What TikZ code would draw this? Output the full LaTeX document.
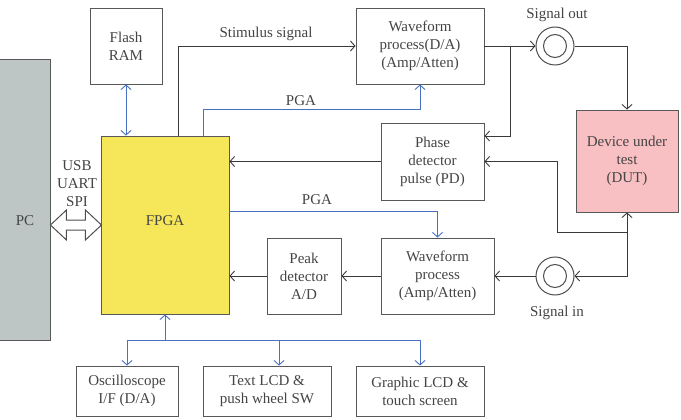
\documentclass[tikz,border=0pt]{standalone}
\usepackage{fontspec}
\setmainfont{Liberation Serif}
\usetikzlibrary{arrows.meta}
\definecolor{ln}{HTML}{3A3A3A}
\definecolor{bl}{HTML}{4A70C0}
\definecolor{txt}{HTML}{444444}
\definecolor{pcgray}{HTML}{BDC6C4}
\definecolor{fpgay}{HTML}{F5E65A}
\definecolor{dutpink}{HTML}{F9C0C4}
\begin{document}
\begin{tikzpicture}[x=1pt,y=-1pt,
  font=\fontsize{15}{18}\selectfont,
  box/.style={draw=ln!85, line width=0.9pt, text=txt, align=center, inner sep=0pt},
  lbl/.style={text=txt, align=center, inner sep=0pt},
  tip/.style={-{Straight Barb[length=4.5pt,width=10pt]}},
  arr/.style={draw=ln, line width=0.9pt, tip},
  barr/.style={draw=bl, line width=0.9pt, tip},
  bline/.style={draw=bl, line width=0.9pt},
  conn/.style={draw=ln!90, line width=1pt, fill=white}]
\useasboundingbox (0,0) rectangle (681,420);
\clip (0,0) rectangle (681,420);

% blocks
\node[box, fill=pcgray, minimum width=55, minimum height=281] (pc) at (22.5,199.5) {};
\node[lbl] (pclabel) at (25,221) {PC};
\node[box, minimum width=72, minimum height=76] (flash) at (126,46) {Flash\\RAM};
\node[box, fill=fpgay, minimum width=128, minimum height=178] (fpga) at (165,225) {};
\node[lbl] (fpgalabel) at (165,221) {FPGA};
\node[box, minimum width=128, minimum height=76] (wfo) at (420,46) {Waveform\\process(D/A)\\(Amp/Atten)};
\node[conn, circle, minimum size=38, inner sep=0pt] (sout) at (555,46) {};
\draw[ln!90, line width=1pt] (sout.center) circle (11.5);
\node[box, fill=dutpink, minimum width=102, minimum height=102] (dut) at (627,161) {Device under\\test\\(DUT)};
\node[box, minimum width=103, minimum height=77] (phase) at (432.5,161.5) {Phase\\detector\\pulse (PD)};
\node[box, minimum width=113, minimum height=76] (wfi) at (437.5,276) {Waveform\\process\\(Amp/Atten)};
\node[conn, circle, minimum size=38, inner sep=0pt] (sin) at (555,276) {};
\draw[ln!90, line width=1pt] (sin.center) circle (11.5);
\node[box, minimum width=74, minimum height=76] (peak) at (304,276) {Peak\\detector\\A/D};
\node[box, minimum width=102, minimum height=50] (osc) at (127,391) {Oscilloscope\\I/F (D/A)};
\node[box, minimum width=128, minimum height=50] (tlcd) at (267,391) {Text LCD \&\\push wheel SW};
\node[box, minimum width=128, minimum height=50] (glcd) at (420,391) {Graphic LCD \&\\touch screen};

% labels
\node[lbl] (stim) at (266,34) {Stimulus signal};
\node[lbl] (soutl) at (557,15) {Signal out};
\node[lbl] (sinl) at (557,313) {Signal in};
\node[lbl] (pga1) at (301,101) {PGA};
\node[lbl] (pga2) at (317,200) {PGA};
\node[lbl] (usb) at (77,184) {USB\\UART\\SPI};

% PC <-> FPGA hollow double arrow
\coordinate (da) at (pc.east |- 0,225);
\draw[conn, line join=miter] (da) -- ++(16,-15) -- ++(0,10) -- ++(19,0) -- ++(0,-10) -- ++(16,15)
  -- ++(-16,15) -- ++(0,-10) -- ++(-19,0) -- ++(0,10) -- cycle;

% Flash <-> FPGA
\draw[barr, {Straight Barb[length=4.5pt,width=10pt]}-{Straight Barb[length=4.5pt,width=10pt]}] (flash.south) -- (flash.south |- fpga.north);

% stimulus
\draw[arr] ([xshift=13pt]fpga.north) |- (wfo.west);
% PGA 1
\draw[barr] ([xshift=38pt]fpga.north) -- ++(0,-26) -| (wfo.south);
% waveform out -> signal out
\draw[arr] (wfo.east) -- (sout.west);
\coordinate (br) at (510,46);
\draw[arr] (br) |- ([yshift=25.5pt]phase.east);
% signal out -> DUT
\draw[arr] (sout.east) -| (dut.north);
% DUT bottom junction
\coordinate (j) at (627,232);
\draw[arr] (j) -- (dut.south);
\draw[arr] (j) -- (557,232) |- (phase.east);
\draw[arr] (j) |- (sin.east);
% phase -> FPGA
\draw[arr] (phase.west) -- (phase.west -| fpga.east);
% PGA 2
\draw[barr] (fpga.east |- 0,211) -| (wfi.north);
% signal in chain
\draw[arr] (sin.west) -- (wfi.east);
\draw[arr] (wfi.west) -- (peak.east);
\draw[arr] (peak.west) -- (fpga.east |- peak.west);

% bottom bus
\coordinate (bus) at (165,340);
\draw[barr] (bus) -- (fpga.south);
\draw[barr] (bus) -| (osc.north);
\draw[barr] (bus) -| (glcd.north);
\draw[barr] ([xshift=12pt]tlcd.north |- bus) -- ([xshift=12pt]tlcd.north);
\end{tikzpicture}
\end{document}
